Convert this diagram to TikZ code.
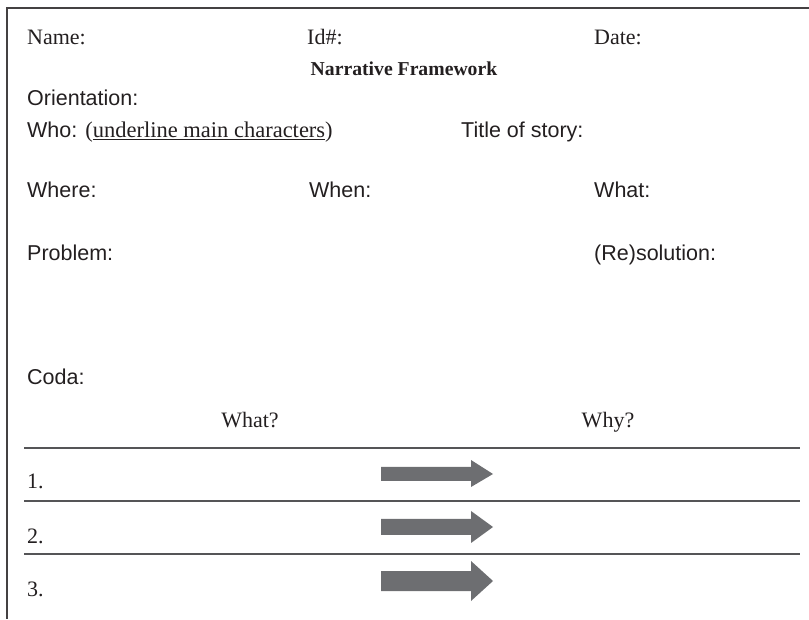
\documentclass[tikz,border=0pt]{standalone}
\usepackage{fontspec}
\setmainfont{Liberation Serif}
\setsansfont{Liberation Sans}
\usepackage{tikz}
\definecolor{ink}{RGB}{35,31,32}
\definecolor{rule}{RGB}{85,85,87}
\definecolor{arrowgray}{RGB}{109,110,113}

\begin{document}
\begin{tikzpicture}[x=1pt,y=1pt,
    lbl/.style={inner sep=0pt,anchor=base west,text=ink,font=\fontsize{22}{26}\selectfont},
    sflbl/.style={lbl,font=\fontsize{21.5}{26}\sffamily\selectfont},
    head/.style={inner sep=0pt,anchor=base,text=ink,font=\fontsize{22}{26}\selectfont}]
    \useasboundingbox (0,0) rectangle (809,619);
    % frame
    \draw[ink!85,line width=1.3pt] (809,611) -- (7,611) -- (7,0);

    \node[lbl] (name) at (27,574)  {Name:};
    \node[lbl] (id)   at (307,574) {Id\#:};
    \node[lbl] (date) at (594,574) {Date:};
    \node[head,font=\fontsize{19.7}{23}\bfseries\selectfont] (title) at (404,543) {Narrative Framework};

    \node[sflbl] (orient)     at (27,513)  {Orientation:};
    \node[sflbl] (who)        at (27,481)  {Who: \fontsize{22.5}{26}\rmfamily(\underline{underline main characters})};
    \node[sflbl] (story)      at (461,481) {Title of story:};
    \node[sflbl] (where)      at (27,421)  {Where:};
    \node[sflbl] (when)       at (309,421) {When:};
    \node[sflbl] (what)       at (594,421) {What:};
    \node[sflbl] (problem)    at (27,358)  {Problem:};
    \node[sflbl] (resolution) at (594,358) {(Re)solution:};
    \node[sflbl] (coda)       at (27,234)  {Coda:};

    \node[head] (what-q) at (250,191) {What?};
    \node[head] (why-q)  at (608,191) {Why?};

    % table rules
    \draw[rule,line width=1.6pt] (24,171) -- (800,171);
    \draw[rule,line width=1.6pt] (24,118) -- (800,118);
    \draw[rule,line width=1.6pt] (24,65)  -- (800,65);

    \node[lbl] (row-1) at (27,130) {1.};
    \node[lbl] (row-2) at (27,76)  {2.};
    \node[lbl] (row-3) at (27,23)  {3.};

    % arrows
    \fill[arrowgray] (381,138) -- (471,138) -- (471,132) -- (493,145) -- (471,159) -- (471,152) -- (381,152) -- cycle;
    \fill[arrowgray] (381,84) -- (471,84) -- (471,76) -- (493,92) -- (471,108) -- (471,100) -- (381,100) -- cycle;
    \fill[arrowgray] (381,28) -- (471,28) -- (471,18) -- (493,38) -- (471,58) -- (471,48) -- (381,48) -- cycle;
  \end{tikzpicture}
\end{document}
